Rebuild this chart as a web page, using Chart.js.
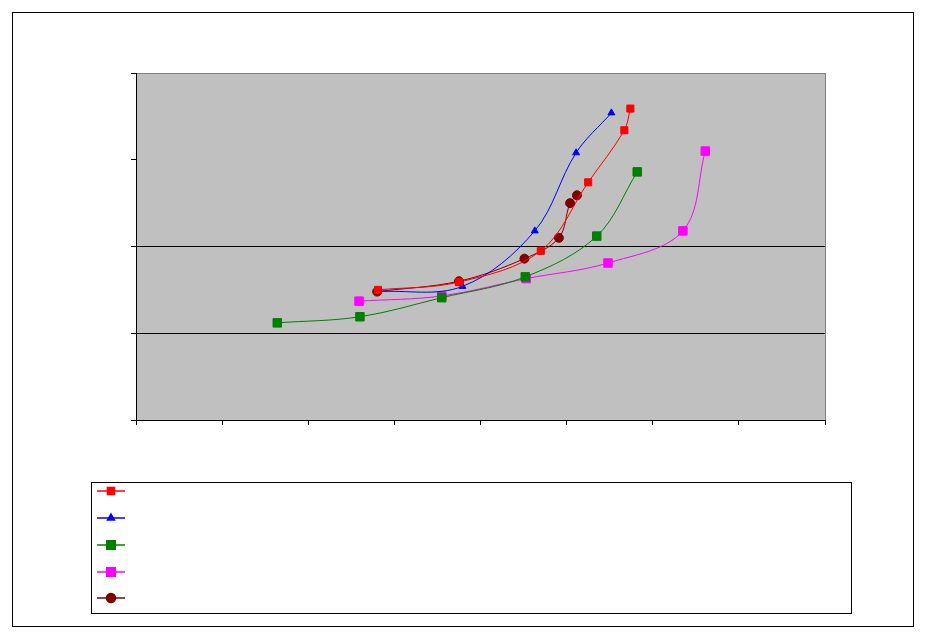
<!DOCTYPE html>
<html>
<head>
<meta charset="utf-8">
<script src="https://cdn.jsdelivr.net/npm/chart.js@4/dist/chart.umd.min.js"></script>
<style>
  html, body { margin: 0; padding: 0; background: #fff; }
  #wrap { position: relative; width: 927px; height: 639px; }
</style>
</head>
<body>
<div id="wrap"><canvas id="myChart" width="927" height="639"></canvas></div>
<script>
// series (axis units = tick intervals)
let red_x = [2.81, 3.75, 4.70, 5.25, 5.67, 5.74],
    red_y = [1.50, 1.59, 1.95, 2.74, 3.34, 3.59],
    blue_x = [2.81, 3.79, 4.63, 5.11, 5.52],
    blue_y = [1.48, 1.54, 2.18, 3.08, 3.54],
    green_x = [1.64, 2.60, 3.55, 4.52, 5.35, 5.82],
    green_y = [1.12, 1.19, 1.41, 1.65, 2.12, 2.86],
    magenta_x = [2.59, 3.55, 4.53, 5.48, 6.35, 6.61],
    magenta_y = [1.37, 1.43, 1.63, 1.81, 2.18, 3.10],
    maroon_x = [2.80, 3.75, 4.51, 4.91, 5.04, 5.12],
    maroon_y = [1.48, 1.60, 1.86, 2.10, 2.50, 2.59],
    series_labels = ['', '', '', '', ''],
    grid_lines_at = [1, 2]

function toPoints(xs, ys) {
    var pts = [];
    for (var i = 0; i < xs.length; i++) {
        pts.push({ x: xs[i], y: ys[i] });
    }
    return pts;
}

function makeSet(label, xs, ys, color, style, radius) {
    return {
        label: label,
        data: toPoints(xs, ys),
        showLine: true,
        borderColor: color,
        backgroundColor: color,
        borderWidth: 1,
        tension: 0.35,
        pointStyle: style,
        pointRadius: radius,
        pointBorderWidth: 1,
        pointBorderColor: color,
        pointBackgroundColor: color
    };
}

// grey plot area with border
const plotArea = {
    id: 'plotArea',
    beforeDraw(chart) {
        var a = chart.chartArea, ctx = chart.ctx;
        ctx.save();
        ctx.fillStyle = '#c0c0c0';
        ctx.fillRect(a.left, a.top, a.right - a.left, a.bottom - a.top);
        ctx.strokeStyle = '#808080';
        ctx.lineWidth = 1;
        ctx.strokeRect(a.left + 0.5, a.top + 0.5, a.right - a.left, a.bottom - a.top);
        ctx.restore();
    }
};

// outer frame and boxed legend without text
const frameLegend = {
    id: 'frameLegend',
    afterDraw(chart) {
        var ctx = chart.ctx;
        ctx.save();
        ctx.strokeStyle = '#000';
        ctx.lineWidth = 1;
        ctx.strokeRect(12.5, 12.5, 901, 614);
        ctx.strokeRect(91.5, 482.5, 760, 131);
        var rows = [491, 518, 545, 572, 598];
        chart.data.datasets.forEach(function (ds, i) {
            var y = rows[i];
            ctx.strokeStyle = ds.borderColor;
            ctx.lineWidth = 1.5;
            ctx.beginPath();
            ctx.moveTo(97, y);
            ctx.lineTo(125, y);
            ctx.stroke();
            ctx.fillStyle = ds.backgroundColor;
            Chart.helpers.drawPoint(ctx, {
                pointStyle: ds.pointStyle,
                radius: ds.pointRadius,
                borderWidth: 1,
                rotation: 0
            }, 111, y);
            ctx.fill();
        });
        ctx.restore();
    }
};

var ctx = document.getElementById('myChart');
new Chart(ctx, {
    type: 'scatter',
    data: {
        datasets: [
            makeSet(series_labels[0], red_x, red_y, '#ff0000', 'rect', 5),
            makeSet(series_labels[1], blue_x, blue_y, '#0000ff', 'triangle', 4),
            makeSet(series_labels[2], green_x, green_y, '#008000', 'rect', 6),
            makeSet(series_labels[3], magenta_x, magenta_y, '#ff00ff', 'rect', 6),
            makeSet(series_labels[4], maroon_x, maroon_y, '#800000', 'circle', 4.5)
        ]
    },
    options: {
        responsive: false,
        animation: false,
        layout: { padding: { left: 131, right: 102, top: 73, bottom: 214 } },
        plugins: {
            legend: { display: false },
            tooltip: { enabled: false }
        },
        scales: {
            x: {
                type: 'linear',
                min: 0, max: 8,
                ticks: { display: false, stepSize: 1 },
                grid: { display: true, drawOnChartArea: false, drawTicks: true, tickLength: 5, tickColor: '#000' },
                border: { color: '#000', width: 1 },
                afterFit(scale) { scale.height = 5; }
            },
            y: {
                type: 'linear',
                min: 0, max: 4,
                ticks: { display: false, stepSize: 1 },
                grid: {
                    drawTicks: true,
                    tickLength: 5,
                    tickColor: '#000',
                    color: function (c) {
                        return c.tick && grid_lines_at.indexOf(c.tick.value) >= 0 ? '#000' : 'rgba(0,0,0,0)';
                    }
                },
                border: { color: '#000', width: 1 },
                afterFit(scale) { scale.width = 5; }
            }
        }
    },
    plugins: [plotArea, frameLegend]
});
</script>
</body>
</html>
